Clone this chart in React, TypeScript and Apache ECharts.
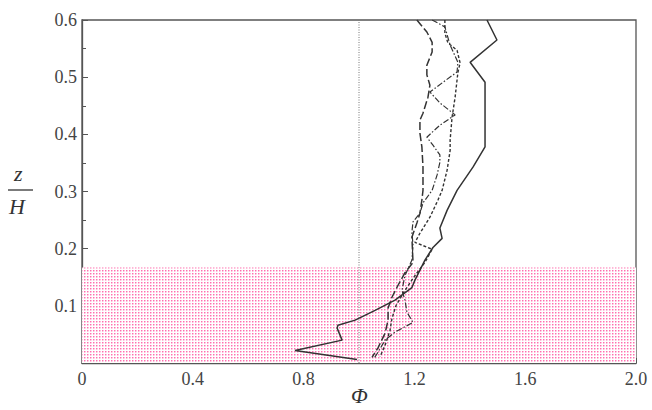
import React, { useEffect, useRef } from "react";
import * as echarts from "echarts";

// Values: [Phi, z/H]
const solidLine: number[][] = [
  [1.462, 0.600], [1.498, 0.565], [1.401, 0.526], [1.455, 0.491], [1.455, 0.378],
  [1.412, 0.343], [1.354, 0.302], [1.318, 0.267], [1.292, 0.236], [1.300, 0.218],
  [1.267, 0.202], [1.238, 0.180], [1.202, 0.145], [1.191, 0.132], [1.130, 0.110],
  [1.058, 0.092], [0.986, 0.075], [0.924, 0.066], [0.921, 0.061], [0.939, 0.040],
  [0.769, 0.022], [0.993, 0.006],
];
const longDashLine: number[][] = [
  [1.209, 0.600], [1.245, 0.579], [1.264, 0.561], [1.264, 0.544], [1.245, 0.521],
  [1.245, 0.504], [1.256, 0.486], [1.249, 0.465], [1.231, 0.437], [1.220, 0.425],
  [1.220, 0.402], [1.227, 0.378], [1.231, 0.343], [1.231, 0.302], [1.227, 0.285],
  [1.220, 0.262], [1.209, 0.245], [1.191, 0.220], [1.195, 0.176], [1.166, 0.158],
  [1.141, 0.136], [1.119, 0.115], [1.105, 0.096], [1.105, 0.075], [1.094, 0.052],
  [1.069, 0.027], [1.047, 0.010],
];
const dottedLine: number[][] = [
  [1.310, 0.600], [1.310, 0.577], [1.321, 0.560], [1.354, 0.547], [1.365, 0.525],
  [1.357, 0.508], [1.347, 0.465], [1.336, 0.430], [1.329, 0.390], [1.329, 0.372],
  [1.318, 0.337], [1.300, 0.302], [1.285, 0.285], [1.256, 0.255], [1.220, 0.227],
  [1.202, 0.211], [1.264, 0.199], [1.238, 0.176], [1.202, 0.153], [1.166, 0.127],
  [1.134, 0.101], [1.119, 0.078], [1.112, 0.057], [1.094, 0.031], [1.076, 0.011],
];
const dashDotLine: number[][] = [
  [1.264, 0.600], [1.310, 0.588], [1.329, 0.556], [1.357, 0.526], [1.354, 0.509],
  [1.303, 0.491], [1.256, 0.474], [1.292, 0.455], [1.347, 0.434], [1.292, 0.416],
  [1.245, 0.395], [1.267, 0.381], [1.292, 0.364], [1.292, 0.351], [1.282, 0.329],
  [1.264, 0.302], [1.231, 0.280], [1.220, 0.262], [1.195, 0.247], [1.191, 0.229],
  [1.195, 0.206], [1.191, 0.180], [1.166, 0.153], [1.155, 0.127], [1.166, 0.110],
  [1.173, 0.089], [1.195, 0.071], [1.130, 0.054], [1.094, 0.040], [1.069, 0.019],
  [1.054, 0.008],
];
const referenceLine: number[][] = [[1.0, 0], [1.0, 0.6]];
const shadedBand: number[] = [0, 0.167];
const xTickLabels: string[] = ["0", "0.4", "0.8", "1.2", "1.6", "2.0"];
const yTickLabels: string[] = ["", "0.1", "0.2", "0.3", "0.4", "0.5", "0.6"];

function makePattern(): HTMLCanvasElement {
  const c = document.createElement("canvas");
  c.width = 3;
  c.height = 3;
  const ctx = c.getContext("2d")!;
  ctx.fillStyle = "#ffffff";
  ctx.fillRect(0, 0, 3, 3);
  ctx.fillStyle = "#ff6eb0";
  ctx.fillRect(0, 0, 1, 1);
  ctx.fillStyle = "#ffbcd9";
  ctx.fillRect(1, 0, 1, 1);
  ctx.fillRect(0, 1, 1, 1);
  ctx.fillStyle = "#ffe3ef";
  ctx.fillRect(1, 1, 1, 1);
  return c;
}

export default function App() {
  const ref = useRef<HTMLDivElement>(null);
  useEffect(() => {
    if (!ref.current) return;
    const chart = echarts.init(ref.current, undefined, { renderer: "svg" });
    const axisColor = "#555";
    const font = "Liberation Serif";
    const lineCol = "#333";
    chart.setOption({
      animation: false,
      backgroundColor: "#fff",
      textStyle: { fontFamily: font, fontSize: 18 },
      grid: {
        left: 82, right: 16, top: 20, bottom: 47,
        show: true, borderColor: axisColor, borderWidth: 1.3, backgroundColor: "transparent",
      },
      xAxis: {
        type: "value", min: 0, max: 2, interval: 0.4,
        axisLine: { show: true, lineStyle: { color: axisColor, width: 1.3 } },
        axisTick: { show: true, inside: true, length: 5, lineStyle: { color: axisColor } },
        minorTick: { show: true, splitNumber: 4, length: 4, lineStyle: { color: axisColor } },
        splitLine: { show: false },
        axisLabel: {
          show: true,
          margin: 7,
          formatter: (v: number) => xTickLabels[Math.round(v / 0.4)] ?? "",
          textStyle: { color: "#444", fontFamily: font, fontSize: 18 },
          color: "#444", fontFamily: font, fontSize: 18,
        },
      },
      yAxis: {
        type: "value", min: 0, max: 0.6, interval: 0.1,
        axisLine: { show: true, lineStyle: { color: axisColor, width: 1.3 } },
        axisTick: { show: true, inside: true, length: 6, lineStyle: { color: axisColor } },
        minorTick: { show: true, splitNumber: 2, length: 4, lineStyle: { color: axisColor } },
        splitLine: { show: false },
        axisLabel: {
          show: true,
          margin: 5,
          formatter: (v: number) => yTickLabels[Math.round(v / 0.1)] ?? "",
          color: "#444", fontFamily: font, fontSize: 18,
        },
      },
      graphic: [
        { type: "text", left: 14, top: 162, style: { text: "z", font: `italic 22px "Liberation Serif"`, fill: "#333" } },
        { type: "line", shape: { x1: 8, y1: 190, x2: 33, y2: 190 }, style: { stroke: "#333", lineWidth: 1.3 } },
        { type: "text", left: 9, top: 195, style: { text: "H", font: `italic 22px "Liberation Serif"`, fill: "#333" } },
        { type: "text", left: 351, top: 384, style: { text: "Φ", font: `italic 22px "Liberation Serif"`, fill: "#333" } },
      ],
      series: [
        {
          type: "line", data: referenceLine, showSymbol: false, symbol: "none", silent: true,
          lineStyle: { color: "#777", width: 1, type: [1, 1.5] },
          markArea: {
            silent: true,
            itemStyle: { color: { image: makePattern(), repeat: "repeat" } as any },
            data: [[{ yAxis: shadedBand[0] }, { yAxis: shadedBand[1] }]],
          },
          z: 1,
        },
        {
          type: "line", data: solidLine, symbol: "none",
          lineStyle: { color: lineCol, width: 1.5, type: "solid" }, z: 3,
        },
        {
          type: "line", data: longDashLine, symbol: "none",
          lineStyle: { color: lineCol, width: 1.5, type: [8, 3] }, z: 3,
        },
        {
          type: "line", data: dottedLine, symbol: "none",
          lineStyle: { color: lineCol, width: 1.4, type: [3, 2] }, z: 3,
        },
        {
          type: "line", data: dashDotLine, symbol: "none",
          lineStyle: { color: lineCol, width: 1.2, type: [6, 2, 1.5, 2] }, z: 3,
        },
      ],
    });
    return () => chart.dispose();
  }, []);
  return <div ref={ref} style={{ width: 652, height: 410, position: "absolute", left: 0, top: 0 }} />;
}
